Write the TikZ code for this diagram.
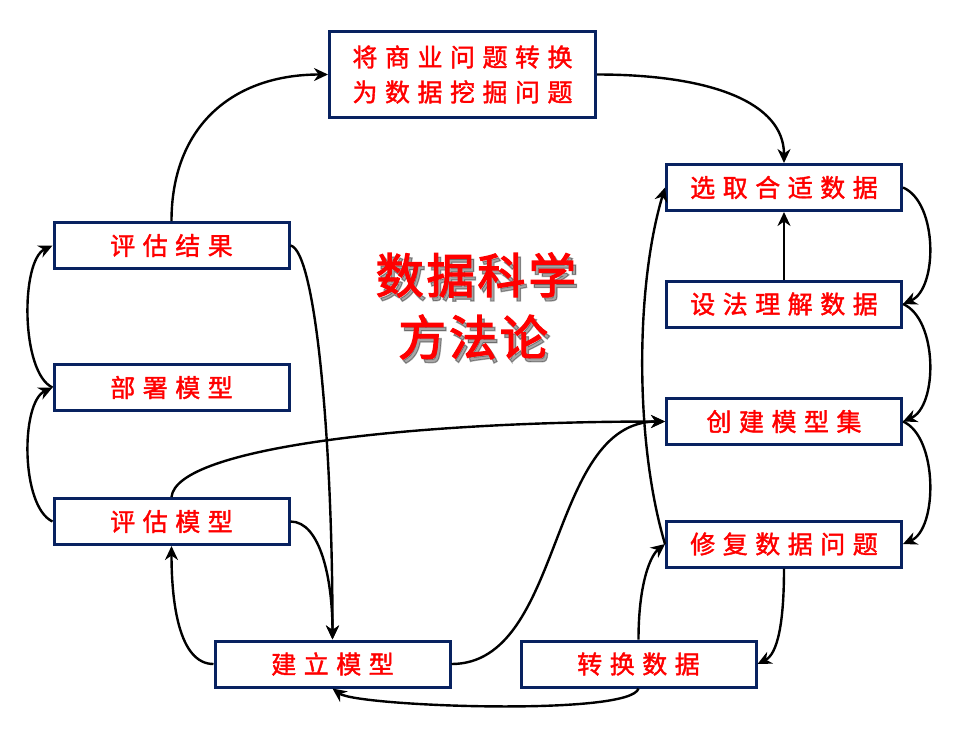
\documentclass[tikz,border=0pt]{standalone}
\usepackage{fontspec}
\newfontfamily\boxfont[LetterSpace=30,FakeBold=1.5]{Noto Sans CJK SC}
\newfontfamily\titlefont[LetterSpace=6,FakeBold=2.5]{Noto Sans CJK SC}
\usetikzlibrary{arrows.meta}
\definecolor{boxnavy}{RGB}{8,34,96}
\definecolor{textred}{RGB}{255,0,0}
\begin{document}
\begin{tikzpicture}[x=1pt,y=-1pt,
  stepbox/.style={draw=boxnavy, line width=3pt, fill=white,
    minimum width=235pt, minimum height=46pt, inner sep=0pt,
    text=textred, font=\boxfont\fontsize{25}{35}\selectfont, align=center},
  flow/.style={line width=2.4pt, draw=black,
    -{Stealth[length=14pt,width=13pt,inset=4.5pt]}},
  titletext/.style={font=\titlefont\fontsize{48}{54}\selectfont, inner sep=0pt},
]
\useasboundingbox (0,0) rectangle (971,732);

% process steps
\node[stepbox, minimum width=266pt, minimum height=86pt] (top) at (462.5,74.5)
  {将商业问题转换\\为数据挖掘问题};
\node[stepbox] (pick)  at (784,187.5) {选取合适数据};
\node[stepbox] (under) at (784,304)   {设法理解数据};
\node[stepbox] (mset)  at (784,421.5) {创建模型集};
\node[stepbox] (fix)   at (784,544)   {修复数据问题};
\node[stepbox] (trans) at (638.5,664) {转换数据};
\node[stepbox] (build) at (332.5,664) {建立模型};
\node[stepbox] (evm)   at (171.5,521.5) {评估模型};
\node[stepbox] (dep)   at (171.5,387.5) {部署模型};
\node[stepbox] (evr)   at (171.5,245.5) {评估结果};

% title with soft shadow
\node[titletext, text=black, opacity=0.35] at (479,279) {数据科学};
\node[titletext, text=textred] (t1) at (476,275) {数据科学};
\node[titletext, text=black, opacity=0.35] at (476,341) {方法论};
\node[titletext, text=textred] (t2) at (473,337) {方法论};

% connectors
\draw[flow] (evr.north) .. controls +(0,-95) and +(-95,0) .. (top.west);
\draw[flow] (top.east) .. controls +(115,0) and +(0,-60) .. (pick.north);
\draw[flow] (pick.east) .. controls +(35,15) and +(35,-15) .. (under.east);
\draw[flow] (under.north) -- (pick.south);
\draw[flow] (under.east) .. controls +(35,15) and +(35,-15) .. (mset.east);
\draw[flow] (mset.east) .. controls +(35,15) and +(35,-15) .. (fix.east);
\draw[flow] (fix.south) .. controls +(0,55) and +(20,-10) .. (trans.east);
\draw[flow] (trans.north) .. controls +(0,-55) and +(-15,12) .. (fix.west);
\draw[flow] (fix.west) .. controls +(-30,-100) and +(-30,100) .. (pick.west);
\draw[flow] (evm.north) .. controls +(5,-50) and +(-250,0) .. (mset.west);
\draw[flow] (build.east) .. controls +(113,0) and +(-118,0) .. (mset.west);
\draw[flow] (evr.east) .. controls +(25,5) and +(0,-200) .. (build.north);
\draw[flow] (evm.east) .. controls +(30,0) and +(0,-60) .. (build.north);
\draw[flow] (build.west) .. controls +(-35,0) and +(0,55) .. (evm.south);
\draw[flow] (evm.west) .. controls +(-32,-15) and +(-32,15) .. (dep.west);
\draw[flow] (dep.west) .. controls +(-32,-15) and +(-32,15) .. (evr.west);
\draw[flow] (trans.south) .. controls +(-8,28) and +(25,18) .. (build.south);
\end{tikzpicture}
\end{document}
